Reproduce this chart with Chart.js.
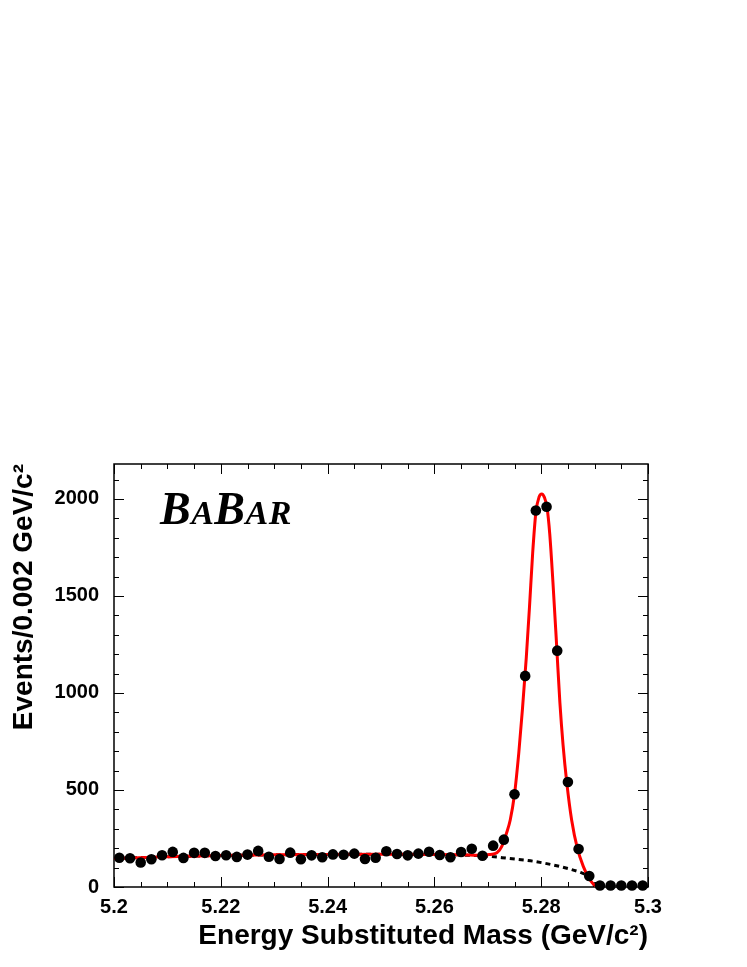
<!DOCTYPE html>
<html>
<head>
<meta charset="utf-8">
<script src="https://cdn.jsdelivr.net/npm/chart.js@4.4.1/dist/chart.umd.min.js"></script>
<style>
  html, body { margin: 0; padding: 0; background: #fff; }
</style>
</head>
<body>
<canvas id="myChart" width="747" height="967"></canvas>
<script>
// bin centres (GeV/c^2), 0.002 wide
let binCenters = [5.201, 5.203, 5.205, 5.207, 5.209, 5.211, 5.213, 5.215, 5.217, 5.219,
    5.221, 5.223, 5.225, 5.227, 5.229, 5.231, 5.233, 5.235, 5.237, 5.239,
    5.241, 5.243, 5.245, 5.247, 5.249, 5.251, 5.253, 5.255, 5.257, 5.259,
    5.261, 5.263, 5.265, 5.267, 5.269, 5.271, 5.273, 5.275, 5.277, 5.279,
    5.281, 5.283, 5.285, 5.287, 5.289, 5.291, 5.293, 5.295, 5.297, 5.299]
let counts = [151, 148, 126, 143, 164, 181, 150, 176, 176, 160,
    164, 155, 167, 186, 156, 144, 177, 143, 163, 153,
    168, 166, 172, 144, 151, 184, 170, 163, 172, 182,
    165, 153, 180, 197, 161, 213, 244, 478, 1088, 1940,
    1960, 1218, 541, 196, 57, 8, 8, 8, 8, 8]

// fitted total (red)
let fitX = [5.200, 5.210, 5.220, 5.230, 5.240, 5.250, 5.260, 5.265, 5.269, 5.2705,
    5.2717, 5.2726, 5.2735, 5.2742, 5.2750, 5.2758, 5.2765, 5.2772, 5.2778, 5.2784,
    5.2790, 5.2796, 5.2801, 5.2806, 5.2811, 5.2816, 5.2822, 5.2829, 5.2835, 5.2841,
    5.2848, 5.2857, 5.2868, 5.2879, 5.2888, 5.2896, 5.2905]
let fitY = [147, 156, 162, 166, 168, 169, 168, 166, 163, 168,
    176, 208, 277, 345, 478, 690, 920, 1180, 1440, 1720,
    1930, 2010, 2026, 2008, 1955, 1820, 1570, 1240, 950, 730,
    535, 345, 196, 105, 53, 20, 0]

// background only (dotted)
let bkgX = [5.200, 5.210, 5.220, 5.230, 5.240, 5.250, 5.260, 5.266, 5.270, 5.274,
    5.278, 5.282, 5.285, 5.2875, 5.289, 5.2897, 5.2900]
let bkgY = [147, 156, 162, 166, 168, 169, 168, 164, 159, 147,
    135, 115, 95, 74, 55, 38, 0]

let xTicks = [5.2, 5.22, 5.24, 5.26, 5.28, 5.3]
let xTickLabels = ['5.2', '5.22', '5.24', '5.26', '5.28', '5.3']
let yTicks = [0, 500, 1000, 1500, 2000]
let yTickLabels = ['0', '500', '1000', '1500', '2000']
let xMin = 5.2, xMax = 5.3, yMin = 0, yMax = 2180

let fonte = 'Liberation Sans'

const moldura = {
    id: 'moldura',
    beforeDatasetsDraw(chart) {
        const {ctx, chartArea: a, scales: {x, y}} = chart
        ctx.save()
        ctx.strokeStyle = '#000'
        ctx.lineWidth = 1
        ctx.beginPath()
        // minor every 0.005, major every 0.02
        for (let i = 0; i <= 20; i++) {
            let px = Math.round(x.getPixelForValue(xMin + i * 0.005)) + 0.5
            let len = i % 4 == 0 ? 10 : 5
            ctx.moveTo(px, a.bottom); ctx.lineTo(px, a.bottom - len)
            ctx.moveTo(px, a.top); ctx.lineTo(px, a.top + len)
        }
        for (let v = 0; v <= yMax; v += 100) {
            let py = Math.round(y.getPixelForValue(v)) + 0.5
            let len = v % 500 == 0 ? 10 : 5
            ctx.moveTo(a.left, py); ctx.lineTo(a.left + len, py)
            ctx.moveTo(a.right, py); ctx.lineTo(a.right - len, py)
        }
        ctx.stroke()
        ctx.lineWidth = 1.5
        ctx.strokeRect(a.left, a.top, a.right - a.left, a.bottom - a.top)
        ctx.restore()
    },
    afterDraw(chart) {
        // BaBar logo, small caps
        const ctx = chart.ctx
        ctx.save()
        ctx.fillStyle = '#000'
        ctx.textBaseline = 'alphabetic'
        let px = 160, base = 524
        let letras = [['B', 46], ['A', 34], ['B', 46], ['A', 34], ['R', 34]]
        letras.forEach(function(l) {
            ctx.font = 'italic bold ' + l[1] + 'px "Liberation Serif"'
            ctx.fillText(l[0], px, base)
            px += ctx.measureText(l[0]).width + 0.5
        })
        ctx.restore()
    }
}

const ctx = document.getElementById('myChart').getContext('2d')
let myChart = new Chart(ctx, {
    type: 'scatter',
    data: {
        datasets: [{
            label: 'dados',
            data: binCenters.map((v, i) => ({x: v, y: counts[i]})),
            backgroundColor: '#000',
            borderWidth: 0,
            pointRadius: 5.3,
            clip: false,
            order: 0
        }, {
            label: 'ajuste',
            data: fitX.map((v, i) => ({x: v, y: fitY[i]})),
            showLine: true,
            borderColor: '#ff0000',
            borderWidth: 3,
            pointRadius: 0,
            cubicInterpolationMode: 'monotone',
            order: 1
        }, {
            label: 'fundo',
            data: bkgX.map((v, i) => ({x: v, y: bkgY[i]})),
            showLine: true,
            borderColor: '#000',
            borderWidth: 3,
            borderDash: [5, 4],
            pointRadius: 0,
            cubicInterpolationMode: 'monotone',
            order: 2
        }]
    },
    options: {
        responsive: false,
        animation: false,
        events: [],
        devicePixelRatio: 1,
        layout: { padding: { top: 464, right: 99, left: 0, bottom: 0 } },
        plugins: { legend: { display: false }, tooltip: { enabled: false } },
        scales: {
            x: {
                type: 'linear',
                min: xMin,
                max: xMax,
                afterFit: s => { s.height = 80 },
                afterBuildTicks: s => { s.ticks = xTicks.map(v => ({value: v})) },
                grid: { display: false, drawTicks: false, tickLength: 0 },
                border: { display: false },
                ticks: {
                    color: '#000',
                    padding: 8,
                    maxRotation: 0,
                    autoSkip: false,
                    font: { family: fonte, weight: 'bold', size: 20 },
                    callback: v => xTickLabels[xTicks.indexOf(v)]
                },
                title: {
                    display: true,
                    text: 'Energy Substituted Mass (GeV/c²)',
                    align: 'end',
                    color: '#000',
                    font: { family: fonte, weight: 'bold', size: 28 },
                    padding: { top: 0, bottom: 14 }
                }
            },
            y: {
                type: 'linear',
                min: yMin,
                max: yMax,
                afterFit: s => { s.width = 114 },
                afterBuildTicks: s => { s.ticks = yTicks.map(v => ({value: v})) },
                grid: { display: false, drawTicks: false, tickLength: 0 },
                border: { display: false },
                ticks: {
                    color: '#000',
                    padding: 15,
                    font: { family: fonte, weight: 'bold', size: 20 },
                    callback: v => yTickLabels[yTicks.indexOf(v)]
                },
                title: {
                    display: true,
                    text: 'Events/0.002 GeV/c²',
                    align: 'end',
                    color: '#000',
                    font: { family: fonte, weight: 'bold', size: 28 },
                    padding: { top: 7, bottom: 0 }
                }
            }
        }
    },
    plugins: [moldura]
})
</script>
</body>
</html>
